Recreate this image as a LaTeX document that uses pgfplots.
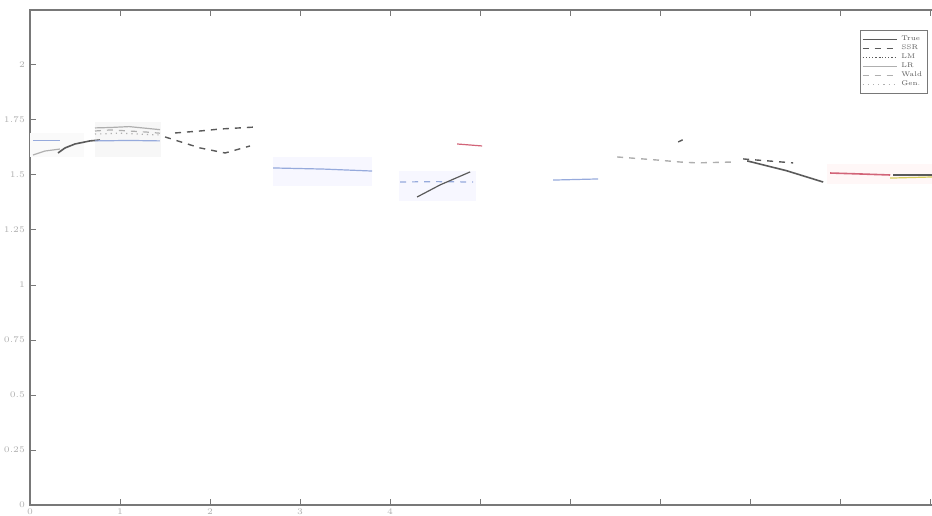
\documentclass[border=0pt]{standalone}
\usepackage{pgfplots}
\pgfplotsset{compat=1.18}
\definecolor{ax}{RGB}{120,120,120}
\definecolor{ln}{RGB}{90,90,90}
\definecolor{lg}{RGB}{175,175,175}
\definecolor{lb}{RGB}{150,170,220}
\definecolor{lr}{RGB}{210,100,120}
\definecolor{ly}{RGB}{215,205,90}
\begin{document}
\begin{tikzpicture}
\useasboundingbox (0,0) rectangle (466pt,257.5pt);
\begin{axis}[
  at={(15pt,5pt)}, anchor=south west,
  scale only axis, width=460pt, height=247.5pt,
  xmin=0, xmax=10.22, ymin=0, ymax=2.25,
  axis line style={ax, line width=0.9pt},
  tick style={ax, line width=0.5pt},
  tick align=inside, major tick length=3pt,
  xtick={0,1,2,3,4,5,6,7,8,9,10},
  xticklabels={0,1,2,3,4,,,,,,},
  ytick={0,0.25,0.5,0.75,1,1.25,1.5,1.75,2},
  yticklabels={0,0.25,0.5,0.75,1,1.25,1.5,1.75,2},
  ticklabel style={font=\fontsize{4.3}{5}\selectfont, text=lg},
  xticklabel style={yshift=1.5pt},
  yticklabel style={xshift=1pt},
  legend style={at={(rel axis cs:0.902,0.96)}, anchor=north west,
    draw=ax, line width=0.6pt, font=\fontsize{3.4}{3.8}\selectfont, text=ln,
    inner sep=0.8pt, row sep=-3.4pt, fill=white},
  legend cell align=left,
  legend image post style={line width=0.6pt},
]
\addlegendimage{ln, line width=0.8pt}\addlegendentry{True}
\addlegendimage{ln, dashed}\addlegendentry{SSR}
\addlegendimage{ln, densely dotted}\addlegendentry{LM}
\addlegendimage{lg}\addlegendentry{LR}
\addlegendimage{lg, dashed}\addlegendentry{Wald}
\addlegendimage{lg, dotted}\addlegendentry{Gen.}

% faint background bands
\addplot[forget plot, draw=none, fill=gray!6] coordinates {(0.72,1.58) (1.45,1.58) (1.45,1.74) (0.72,1.74)} -- cycle;
\addplot[forget plot, draw=none, fill=gray!4] coordinates {(0.0,1.58) (0.6,1.58) (0.6,1.69) (0.0,1.69)} -- cycle;
\addplot[forget plot, draw=none, fill=blue!3] coordinates {(2.7,1.45) (3.8,1.45) (3.8,1.58) (2.7,1.58)} -- cycle;
\addplot[forget plot, draw=none, fill=blue!3] coordinates {(4.1,1.38) (4.95,1.38) (4.95,1.52) (4.1,1.52)} -- cycle;
\addplot[forget plot, draw=none, fill=red!3] coordinates {(8.85,1.46) (10.22,1.46) (10.22,1.55) (8.85,1.55)} -- cycle;

% early segment
\addplot[forget plot, lg, line width=0.6pt] coordinates {(0.033,1.591) (0.167,1.609) (0.333,1.618)};
\addplot[forget plot, ln, line width=0.8pt] coordinates {(0.311,1.600) (0.389,1.623) (0.5,1.641) (0.667,1.655) (0.778,1.659)};
\addplot[forget plot, lb, line width=0.5pt] coordinates {(0.033,1.655) (0.333,1.655)};
\addplot[forget plot, lb, line width=0.6pt] coordinates {(0.722,1.655) (1.1,1.657) (1.444,1.655)};
% top group
\addplot[forget plot, lg, line width=0.6pt] coordinates {(0.722,1.714) (0.9,1.716) (1.1,1.720) (1.3,1.712) (1.444,1.706)};
\addplot[forget plot, lg, dashed, line width=0.6pt] coordinates {(0.722,1.700) (0.9,1.705) (1.1,1.700) (1.3,1.695) (1.444,1.690)};
\addplot[forget plot, lg, dotted, line width=0.6pt] coordinates {(0.722,1.686) (1.0,1.690) (1.2,1.686) (1.444,1.682)};
% dashed branches
\addplot[forget plot, ln, dashed, line width=0.7pt] coordinates {(1.5,1.673) (1.889,1.623) (2.167,1.600) (2.444,1.632)};
\addplot[forget plot, ln, dashed, line width=0.7pt] coordinates {(1.611,1.691) (1.889,1.700) (2.111,1.709) (2.5,1.718)};
% blue middle
\addplot[forget plot, lb, line width=0.6pt] coordinates {(2.7,1.532) (3.256,1.527) (3.8,1.518)};
\addplot[forget plot, lb, dashed, line width=0.6pt] coordinates {(4.111,1.468) (4.5,1.470) (4.922,1.468)};
\addplot[forget plot, ln, line width=0.6pt] coordinates {(4.3,1.400) (4.556,1.455) (4.889,1.514)};
\addplot[forget plot, lr, line width=0.6pt] coordinates {(4.744,1.641) (5.022,1.632)};
\addplot[forget plot, lb, line width=0.6pt] coordinates {(5.811,1.477) (6.311,1.482)};
% right part
\addplot[forget plot, lg, dashed, line width=0.7pt] coordinates {(6.522,1.582) (6.967,1.568) (7.222,1.559) (7.411,1.555) (7.811,1.559)};
\addplot[forget plot, ln, dashed, line width=0.7pt] coordinates {(7.922,1.573) (8.478,1.555)};
\addplot[forget plot, ln, line width=0.8pt] coordinates {(7.967,1.564) (8.4,1.52) (8.811,1.468)};
\addplot[forget plot, ln, line width=0.7pt] coordinates {(7.2,1.650) (7.25,1.660)};
\addplot[forget plot, lr, line width=0.8pt] coordinates {(8.889,1.509) (9.2,1.505) (9.556,1.500)};
\addplot[forget plot, ln, line width=0.8pt] coordinates {(9.589,1.500) (10.022,1.500) (10.22,1.500)};
\addplot[forget plot, ly, line width=0.6pt] coordinates {(9.556,1.486) (10.022,1.491) (10.22,1.491)};
\end{axis}
\end{tikzpicture}
\end{document}
